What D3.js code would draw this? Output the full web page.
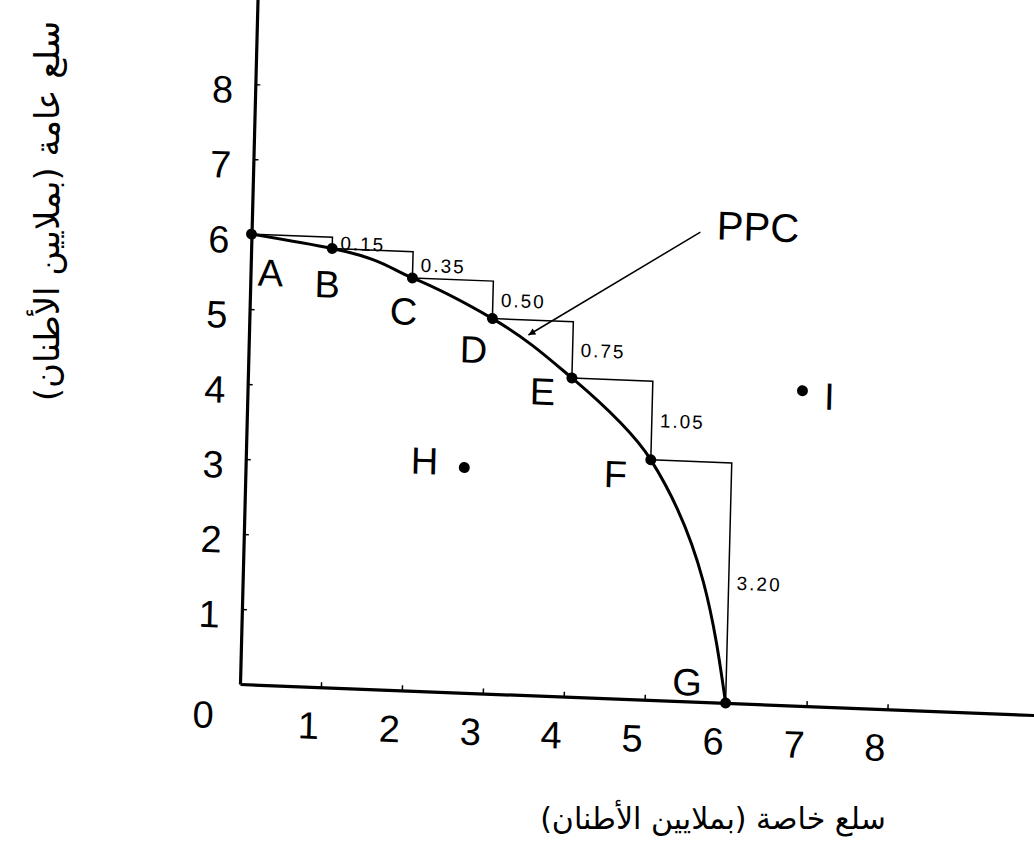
<!DOCTYPE html>
<html>
<head>
<meta charset="utf-8">
<script src="https://cdn.jsdelivr.net/npm/d3@7"></script>
<style>
  html, body { margin: 0; padding: 0; background: #fff; }
  svg { display: block; }
</style>
</head>
<body>
<svg id="chart" width="1034" height="867"></svg>
<script>
// Production possibilities: private goods (x) vs public goods (y), millions of tons
const pointNames   = ["A", "B", "C", "D", "E", "F", "G"];
const privateGoods = [0, 1, 2, 3, 4, 5, 6];
const publicGoods  = [6, 5.85, 5.5, 5.0, 4.25, 3.2, 0];

// Combinations off the frontier
const offNames   = ["H", "I"];
const offPrivate = [2.7, 6.85];
const offPublic  = [3.0, 4.2];

const xTicks = [1, 2, 3, 4, 5, 6, 7, 8];
const yTicks = [1, 2, 3, 4, 5, 6, 7, 8];

const xTitle = "سلع خاصة (بملايين الأطنان)";
const yTitle = "سلع عامة (بملايين الأطنان)";
const curveName = "PPC";

const svg = d3.select("#chart");

// Scales (local frame: origin at the corner of the axes, y grows upward as negative)
const x = d3.scaleLinear().domain([0, 10.1]).range([0, 818]);
const y = d3.scaleLinear().domain([0, 9.2]).range([0, -690]);

// The plot frame sits slightly askew on the page
const plot = svg.append("g")
  .attr("transform", "matrix(0.9993,0.039,-0.0256,0.9997,240,684)");

const numFont = "'Liberation Sans', Arial, sans-serif";

// Axes
const yAxis = d3.axisLeft(y).tickValues(yTicks).tickSizeInner(-5).tickSizeOuter(0).tickPadding(22);
const xAxis = d3.axisBottom(x).tickValues(xTicks).tickSizeInner(-5).tickSizeOuter(0).tickPadding(25);

const gy = plot.append("g").call(yAxis);
const gx = plot.append("g").call(xAxis);
[gx, gy].forEach(g => {
  g.select(".domain").attr("stroke", "#000").attr("stroke-width", 3.2);
  g.selectAll(".tick line").attr("stroke", "#000").attr("stroke-width", 1.5);
  g.selectAll(".tick text")
    .attr("fill", "#000")
    .attr("font-family", numFont)
    .attr("font-size", 38);
});
gy.selectAll(".tick text").attr("dy", "0.5em");
gx.selectAll(".tick text").attr("dx", -12);

// Origin label
plot.append("text")
  .attr("x", x(0) - 36).attr("y", y(0) + 32)
  .attr("text-anchor", "middle").attr("dominant-baseline", "central")
  .attr("font-family", numFont).attr("font-size", 38)
  .text("0");

// Frontier points
const pts = pointNames.map((n, i) => ({ name: n, px: privateGoods[i], py: publicGoods[i] }));

// Step brackets between neighbouring points, labelled with the drop in public goods
const steps = pts.slice(1).map((p, i) => ({ from: pts[i], to: p, drop: pts[i].py - p.py }));

const stepG = plot.append("g").attr("stroke", "#000").attr("stroke-width", 1.5).attr("fill", "none");
steps.forEach(s => {
  stepG.append("path")
    .attr("d", `M${x(s.from.px)},${y(s.from.py)}H${x(s.to.px)}V${y(s.to.py)}`);
});

plot.append("g").selectAll("text")
  .data(steps)
  .join("text")
  .attr("x", d => x(d.to.px) + 8)
  .attr("y", d => (y(d.from.py) + y(d.to.py)) / 2)
  .attr("dominant-baseline", "central")
  .attr("font-family", numFont)
  .attr("font-size", 19)
  .attr("letter-spacing", 2)
  .text(d => d.drop.toFixed(2));

// Frontier curve (private goods treated as a function of public goods so the end at G turns steep)
const line = d3.line()
  .x(d => x(d.px))
  .y(d => y(d.py))
  .curve(d3.curveMonotoneY);

plot.append("path")
  .datum(pts)
  .attr("d", line)
  .attr("fill", "none")
  .attr("stroke", "#000")
  .attr("stroke-width", 3);

plot.append("g").selectAll("circle")
  .data(pts)
  .join("circle")
  .attr("cx", d => x(d.px))
  .attr("cy", d => y(d.py))
  .attr("r", 5.5)
  .attr("fill", "#000");

// Point letters
const letterOffset = {
  A: [20, 38], B: [-4, 36], C: [-8, 34], D: [-18, 32],
  E: [-29, 15], F: [-35, 16], G: [-39, -19]
};
plot.append("g").selectAll("text")
  .data(pts)
  .join("text")
  .attr("x", d => x(d.px) + letterOffset[d.name][0])
  .attr("y", d => y(d.py) + letterOffset[d.name][1])
  .attr("text-anchor", "middle")
  .attr("dominant-baseline", "central")
  .attr("font-family", numFont)
  .attr("font-size", 38)
  .text(d => d.name);

// Points inside and outside the frontier
const offs = offNames.map((n, i) => ({ name: n, px: offPrivate[i], py: offPublic[i] }));
plot.append("g").selectAll("circle")
  .data(offs)
  .join("circle")
  .attr("cx", d => x(d.px))
  .attr("cy", d => y(d.py))
  .attr("r", 5.5)
  .attr("fill", "#000");

const offLabelDy = { H: -5, I: 5 };
const offLabelDx = { H: -40, I: 27 };
plot.append("g").selectAll("text")
  .data(offs)
  .join("text")
  .attr("x", d => x(d.px) + offLabelDx[d.name])
  .attr("y", d => y(d.py) + offLabelDy[d.name])
  .attr("text-anchor", "middle")
  .attr("dominant-baseline", "central")
  .attr("font-family", numFont)
  .attr("font-size", 38)
  .text(d => d.name);

// Curve label with leader arrow
const labelAt = { px: 6.25, py: 6.36 };
const leaderFrom = { px: 5.54, py: 6.26 };
const leaderTo = { px: 3.45, py: 4.8 };

svg.append("defs").append("marker")
  .attr("id", "head")
  .attr("viewBox", "0 0 10 10")
  .attr("refX", 10).attr("refY", 5)
  .attr("markerWidth", 10).attr("markerHeight", 7)
  .attr("markerUnits", "userSpaceOnUse")
  .attr("orient", "auto")
  .append("path").attr("d", "M0,0L10,5L0,10Z").attr("fill", "#000");

plot.append("line")
  .attr("x1", x(leaderFrom.px)).attr("y1", y(leaderFrom.py))
  .attr("x2", x(leaderTo.px)).attr("y2", y(leaderTo.py))
  .attr("stroke", "#000").attr("stroke-width", 1.5)
  .attr("marker-end", "url(#head)");

plot.append("text")
  .attr("x", x(labelAt.px)).attr("y", y(labelAt.py))
  .attr("text-anchor", "middle").attr("dominant-baseline", "central")
  .attr("font-family", numFont).attr("font-size", 40)
  .text(curveName);

// Axis titles
const arFont = "'DejaVu Sans', sans-serif";
svg.append("text")
  .attr("transform", "translate(47,211) rotate(-90)")
  .attr("text-anchor", "middle").attr("dominant-baseline", "central")
  .attr("font-family", arFont).attr("font-size", 34)
  .text(yTitle);

svg.append("text")
  .attr("x", 713).attr("y", 818)
  .attr("text-anchor", "middle").attr("dominant-baseline", "central")
  .attr("font-family", arFont).attr("font-size", 30)
  .text(xTitle);
</script>
</body>
</html>
